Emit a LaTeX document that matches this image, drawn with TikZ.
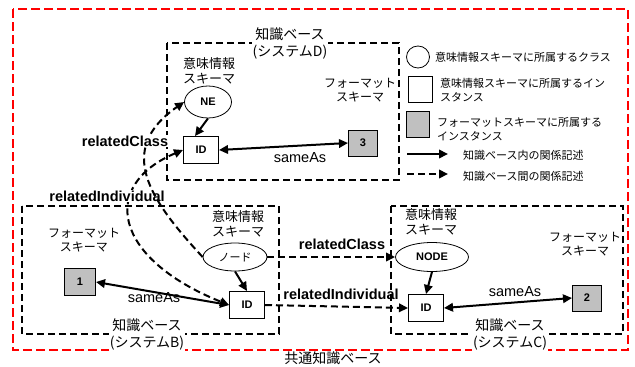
\documentclass[tikz,border=0pt]{standalone}
\usepackage{fontspec}
\setmainfont{Liberation Sans}
\newfontfamily\cjk{Noto Sans CJK JP}
\usetikzlibrary{arrows.meta,shapes.geometric}
\definecolor{fgray}{RGB}{192,192,192}
\tikzset{
  kbbox/.style={draw, line width=2pt, dash pattern=on 7pt off 4pt},
  commonbox/.style={draw=red, line width=2.4pt, dash pattern=on 9pt off 4pt},
  inst/.style={draw, line width=1pt, fill=white, minimum width=35pt, minimum height=27pt, inner sep=0pt, font=\fontsize{11}{13}\selectfont\bfseries},
  finst/.style={inst, fill=fgray, minimum width=29pt, minimum height=26pt},
  cls/.style={ellipse, draw, line width=0.8pt, fill=white, inner sep=0pt, font=\fontsize{11}{13}\selectfont\bfseries},
  rel/.style={line width=2pt, -{Triangle[length=9pt,width=8.5pt]}},
  rel2/.style={line width=2pt, {Triangle[length=9pt,width=8.5pt]}-{Triangle[length=9pt,width=8.5pt]}},
  xrel/.style={rel, dash pattern=on 7pt off 4pt},
  xrel2/.style={rel2, dash pattern=on 7pt off 4pt},
  kblab/.style={font=\cjk\fontsize{14}{17}\selectfont, align=center, inner sep=1pt},
  schlab/.style={font=\cjk\fontsize{13}{15}\selectfont, align=center, inner sep=0pt},
  fmtlab/.style={font=\cjk\fontsize{12}{14}\selectfont, align=center, inner sep=0pt},
  rlab/.style={font=\fontsize{14.5}{16}\selectfont\bfseries, inner sep=1pt},
  salab/.style={font=\fontsize{14.5}{16}\selectfont, inner sep=0pt},
  leg/.style={font=\cjk\fontsize{11}{14}\selectfont, align=left, anchor=west, inner sep=0pt},
}
\begin{document}
\begin{tikzpicture}[x=1pt,y=-1pt]
\useasboundingbox (0,0) rectangle (635,367);
% frames
\draw[commonbox] (13,9) rectangle (628,350);
\draw[kbbox] (167,43) rectangle (399,180);
\draw[kbbox] (22,206) rectangle (279,334);
\draw[kbbox] (391,206) rectangle (623,334);
\node[kblab, fill=white] (commonlab) at (333,358) {共通知識ベース};
\node[kblab, fill=white] (kbDlab) at (290,43) {知識ベース\\(システムD)};
\node[kblab, fill=white] (kbBlab) at (147,334) {知識ベース\\(システムB)};
\node[kblab, fill=white] (kbClab) at (510,334) {知識ベース\\(システムC)};
% schema labels
\node[schlab] (semD) at (209,71) {意味情報\\スキーマ};
\node[fmtlab] (fmtD) at (360,90) {フォーマット\\スキーマ};
\node[schlab] (semB) at (238,224) {意味情報\\スキーマ};
\node[fmtlab] (fmtB) at (84,240) {フォーマット\\スキーマ};
\node[schlab] (semC) at (431,222) {意味情報\\スキーマ};
\node[fmtlab] (fmtC) at (585,244) {フォーマット\\スキーマ};
% nodes
\node[cls, minimum width=47pt, minimum height=32pt] (NE) at (208,102) {NE};
\node[inst] (IDD) at (201,150) {ID};
\node[finst] (F3) at (363,143) {3};
\node[cls, minimum width=64pt, minimum height=28pt, font=\cjk\fontsize{11}{13}\selectfont] (NODEB) at (235,257) {ノード};
\node[inst] (IDB) at (247,305) {ID};
\node[finst, minimum width=31pt, minimum height=27pt] (F1) at (80,282) {1};
\node[cls, minimum width=73pt, minimum height=29pt] (NODEC) at (432,257) {NODE};
\node[inst] (IDC) at (426,308) {ID};
\node[finst] (F2) at (587,298) {2};
% within-KB relations
\draw[rel] (NE.south) -- ([xshift=-6pt]IDD.north);
\draw[rel] (NODEB.south) -- (IDB.north);
\draw[rel] (NODEC.south) -- (IDC.north);
\draw[rel2] (IDD.east) -- (F3.west);
\draw[rel2] (F1.east) -- (IDB.west);
\draw[rel2] (IDC.east) -- (F2.west);
\node[salab] (saD) at (300,158) {sameAs};
\node[salab] (saB) at (154,298) {sameAs};
\node[salab] (saC) at (515,292) {sameAs};
% between-KB relations
\draw[xrel] (NODEB.east) -- (NODEC.west);
\draw[xrel] (IDB.east) -- (IDC.west);
\node[rlab] (rcM) at (342,244) {relatedClass};
\node[rlab] (riM) at (341,294) {relatedIndividual};
\draw[xrel2] (IDD.west) .. controls (100,185) and (112,258) .. (IDB.west);
\node[rlab, fill=white] (riL) at (107,196) {relatedIndividual};
\draw[xrel] (NODEB.west) .. controls (150,200) and (115,150) .. (NE.west);
\node[rlab, fill=white] (rcL) at (125,141) {relatedClass};
% legend
\node[ellipse, draw, line width=0.8pt, minimum width=23pt, minimum height=22pt, inner sep=0pt] (lgC) at (418,57) {};
\node[draw, line width=1pt, minimum width=24pt, minimum height=26pt, inner sep=0pt] (lgI) at (420,89) {};
\node[draw, line width=1pt, fill=fgray, minimum width=23pt, minimum height=26pt, inner sep=0pt] (lgF) at (418,124) {};
\node[leg] (lgCt) at (435,57) {意味情報スキーマに所属するクラス};
\node[leg] (lgIt) at (440,90) {意味情報スキーマに所属するイン\\スタンス};
\node[leg] (lgFt) at (437,129) {フォーマットスキーマに所属する\\インスタンス};
\coordinate (la1) at (407,154);
\coordinate (la2) at (448,154);
\coordinate (lb1) at (407,174);
\coordinate (lb2) at (448,174);
\draw[rel] (la1) -- (la2);
\draw[xrel] (lb1) -- (lb2);
\node[leg] (lgAt) at (463,155) {知識ベース内の関係記述};
\node[leg] (lgBt) at (463,176) {知識ベース間の関係記述};
\end{tikzpicture}
\end{document}
